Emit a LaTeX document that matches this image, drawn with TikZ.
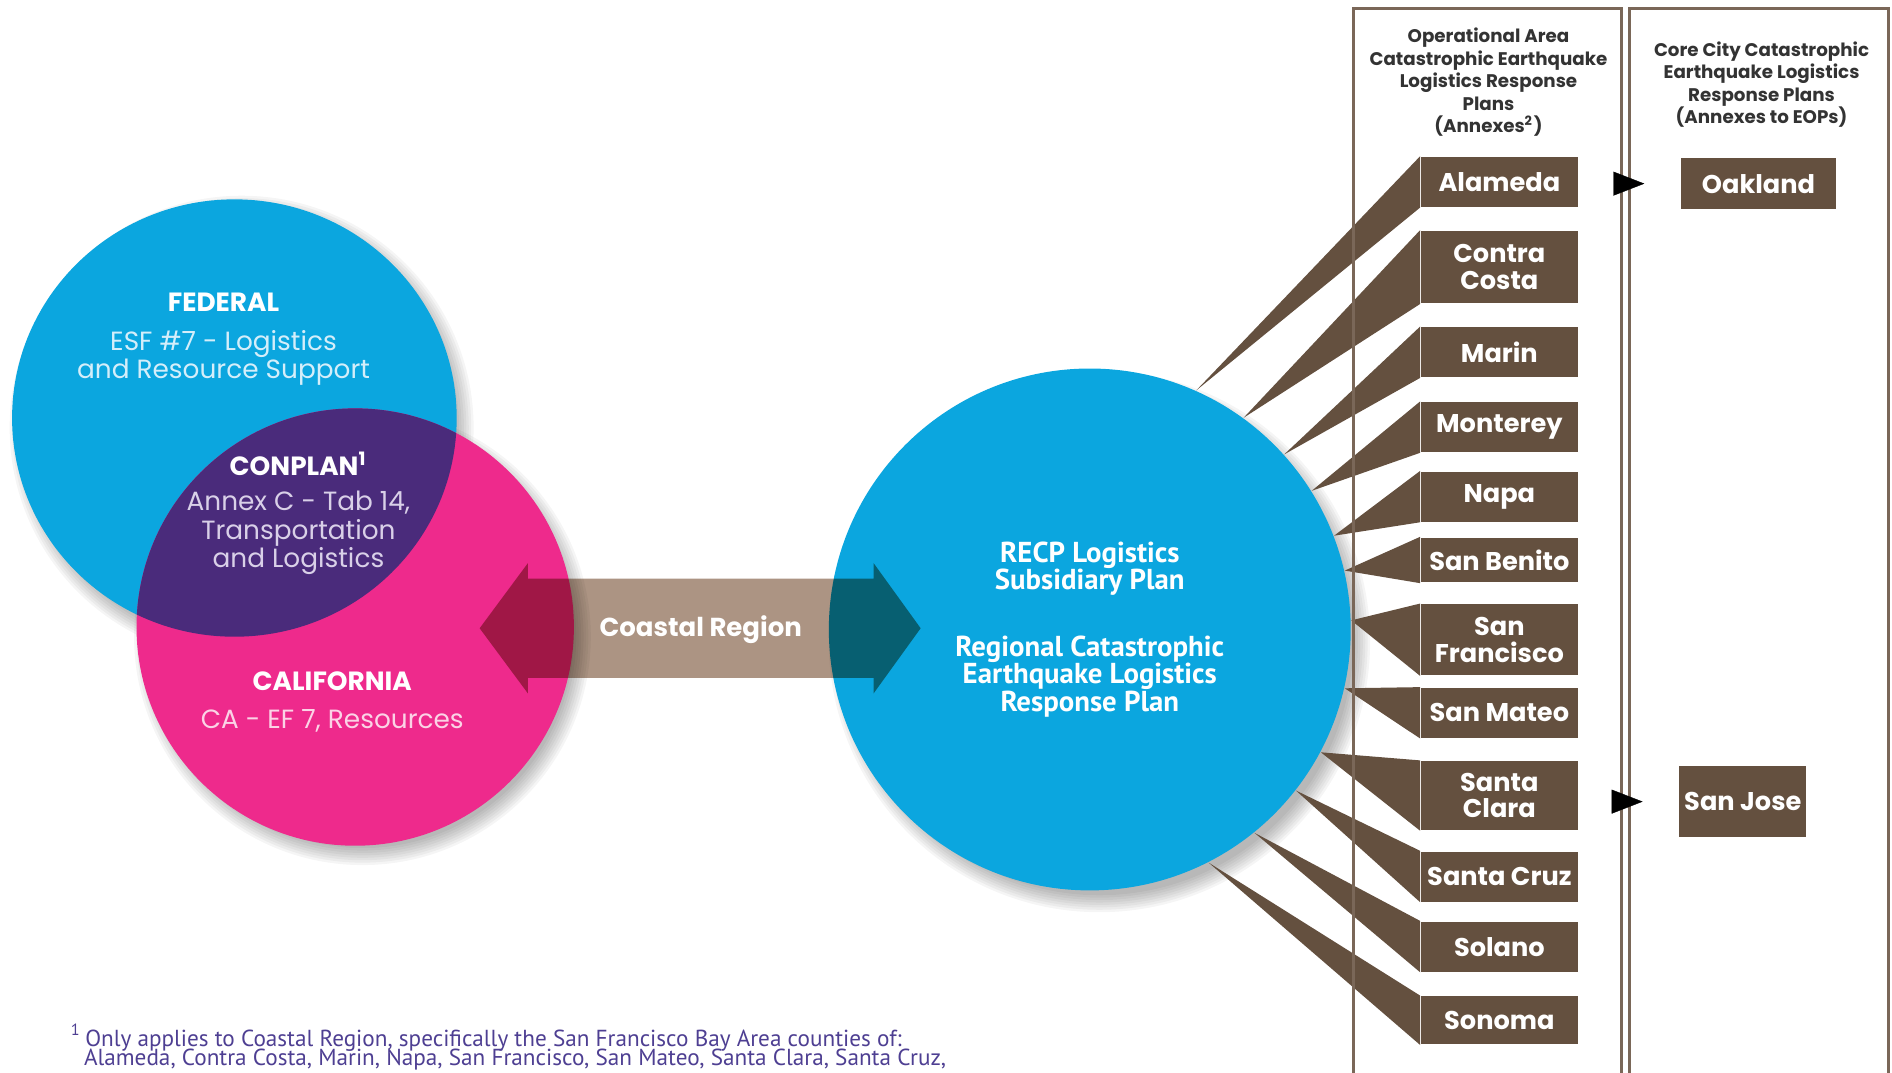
\documentclass[tikz,border=0pt]{standalone}
\usepackage{fontspec}
\setmainfont{Poppins}
\newfontfamily\narrowfont{PT Sans}
\usetikzlibrary{arrows.meta}

\definecolor{fedblue}{HTML}{0BA6DF}
\definecolor{capink}{HTML}{EE2A8C}
\definecolor{conpurple}{HTML}{4A2B7B}
\definecolor{countybrown}{HTML}{64503F}
\definecolor{arrowbrown}{HTML}{A58B78}
\definecolor{framebrown}{HTML}{7A6758}
\definecolor{headgray}{HTML}{333333}
\definecolor{notepurple}{HTML}{4E3F92}
\definecolor{fedsub}{HTML}{D4EEFA}
\definecolor{consub}{HTML}{D9D0E8}
\definecolor{calsub}{HTML}{FBD3E6}

\begin{document}
\begin{tikzpicture}[x=0.01208cm, y=-0.01208cm]
        \tikzset{County/.style={%
                fill=countybrown,%
                text=white,%
                font=\bfseries\fontsize{7.3}{7.6}\selectfont,%
                align=center,%
                minimum width=1.57cm,%
                minimum height=0.5cm,%
                inner sep=0pt,%
            }}
        \tikzset{Header/.style={%
                text=headgray,%
                font=\bfseries\fontsize{5.2}{6.4}\selectfont,%
                align=center,%
            }}
        \tikzset{Title/.style={text=white, font=\bfseries\fontsize{7.5}{8}\selectfont}}
        \tikzset{Sub/.style={font=\fontsize{7.5}{8}\selectfont, align=center}}
        \tikzset{Note/.style={anchor=west, inner sep=0pt, text=notepurple, font=\narrowfont\fontsize{6.6}{7}\selectfont}}
        \tikzset{Frame/.style={draw=framebrown, line width=0.8pt}}
        \tikzset{Link/.style={draw=white, line width=0.1pt, shorten >=0.36cm,%
                -{Triangle[length=0.31cm, width=0.24cm, color=black]}}}

        \useasboundingbox (0,0) rectangle (1566,887.3);

        % soft shadows
        \foreach \k in {1,...,8}{
            \fill[black, opacity=0.04] (200,354) circle[radius=176+2*\k];
            \fill[black, opacity=0.04] (300,527) circle[radius=173+2*\k];
            \fill[black, opacity=0.04] (910,531) circle[radius=208+2*\k];
        }

        % Venn circles
        \fill[fedblue] (194,346) circle[x radius=184, y radius=181];
        \fill[capink] (294,519) circle[radius=181];
        \begin{scope}
            \clip (194,346) circle[x radius=184, y radius=181];
            \fill[conpurple] (294,519) circle[radius=181];
        \end{scope}

        \node[circle, fill=fedblue, minimum size=5.22cm, inner sep=0pt, text=white,%
            font=\narrowfont\bfseries\fontsize{8.2}{7.9}\selectfont, align=center] (recp) at (902,521)
            {RECP Logistics\\Subsidiary Plan\\[11pt]Regional Catastrophic\\Earthquake Logistics\\Response Plan};

        % coastal arrow
        \begin{scope}[blend mode=multiply, opacity=0.92]
            \fill[arrowbrown] (397,520) -- (437,466) -- (437,479) -- (723,479) -- (723,466)
                -- (762,520) -- (723,574) -- (723,561) -- (437,561) -- (437,574) -- cycle;
        \end{scope}
        \node[Title, font=\bfseries\fontsize{7.4}{8}\selectfont] (coastal) at (580,521) {Coastal Region};

        \node[Title] (fedtitle) at (185,250) {FEDERAL};
        \node[Sub, text=fedsub] (fedtext) at (185,296) {ESF \#7 - Logistics\\and Resource Support};
        \node[Title] (contitle) at (247,384) {CONPLAN\textsuperscript{1}};
        \node[Sub, text=consub] (context) at (247,441) {Annex C - Tab 14,\\Transportation\\and Logistics};
        \node[Title] (caltitle) at (275,564) {CALIFORNIA};
        \node[Sub, text=calsub] (caltext) at (275,597) {CA - EF 7, Resources};

        % county boxes
        \node[County] (ala) at (1241,150.5) {Alameda};
        \node[County, minimum height=0.725cm] (cco) at (1241,221) {Contra\\Costa};
        \node[County] (mar) at (1241,291.5) {Marin};
        \node[County] (mon) at (1241,353.5) {Monterey};
        \node[County] (nap) at (1241,411) {Napa};
        \node[County, minimum height=0.45cm] (sbe) at (1241,463.5) {San Benito};
        \node[County, minimum height=0.71cm] (sfr) at (1241,529.5) {San\\Francisco};
        \node[County] (smt) at (1241,590) {San Mateo};
        \node[County, minimum height=0.69cm] (scl) at (1241,658.5) {Santa\\Clara};
        \node[County] (scz) at (1241,725.5) {Santa Cruz};
        \node[County] (sol) at (1241,783.5) {Solano};
        \node[County, minimum height=0.48cm] (son) at (1241,844.5) {Sonoma};

        \node[County, minimum width=1.55cm, minimum height=0.51cm] (oak) at (1455.5,152) {Oakland};
        \node[County, minimum width=1.27cm, minimum height=0.71cm] (sjo) at (1442.5,663.5) {San Jose};

        \fill[countybrown] (recp.66.6) -- (ala.north west) -- (ala.south west) -- cycle;
        \fill[countybrown] (recp.54.6) -- (cco.north west) -- (cco.south west) -- cycle;
        \fill[countybrown] (recp.42) -- (mar.north west) -- (mar.south west) -- cycle;
        \fill[countybrown] (recp.32.4) -- (mon.north west) -- (mon.south west) -- cycle;
        \fill[countybrown] (recp.21) -- (nap.north west) -- (nap.south west) -- cycle;
        \fill[countybrown] (recp.13.6) -- (sbe.north west) -- (sbe.south west) -- cycle;
        \fill[countybrown] (recp.2.6) -- (sfr.north west) -- (sfr.south west) -- cycle;
        \fill[countybrown] (recp.-13) -- (smt.north west) -- (smt.south west) -- cycle;
        \fill[countybrown] (recp.-28) -- (scl.north west) -- (scl.south west) -- cycle;
        \fill[countybrown] (recp.-38.7) -- (scz.north west) -- (scz.south west) -- cycle;
        \fill[countybrown] (recp.-51) -- (sol.north west) -- (sol.south west) -- cycle;
        \fill[countybrown] (recp.-63) -- (son.north west) -- (son.south west) -- cycle;

        % plan panels
        \draw[Frame] (1120,7) rectangle (1342,905);
        \draw[Frame] (1349,7) rectangle (1563,905);
        \node[Header] (ophead) at (1232,68) {Operational Area\\Catastrophic Earthquake\\Logistics Response\\Plans\\(Annexes\textsuperscript{2})};
        \node[Header] (cityhead) at (1458,70) {Core City Catastrophic\\Earthquake Logistics\\Response Plans\\(Annexes to EOPs)};

        \draw[Link] (ala.east |- oak) -- (oak);
        \draw[Link] (scl.east |- sjo) -- (sjo);

        % footnote
        \node[Note] (note1) at (58,859)
            {\textsuperscript{1}\,Only applies to Coastal Region, specifically the San Francisco Bay Area counties of:};
        \node[Note] (note2) at (69,877)
            {Alameda, Contra Costa, Marin, Napa, San Francisco, San Mateo, Santa Clara, Santa Cruz,};
\end{tikzpicture}
\end{document}
